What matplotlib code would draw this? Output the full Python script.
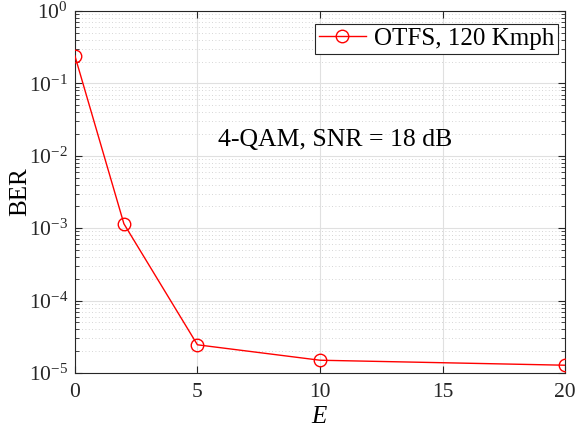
import matplotlib
matplotlib.use("Agg")
import matplotlib.pyplot as plt
from matplotlib.ticker import LogLocator, NullFormatter

plt.rcParams["font.family"] = "Liberation Serif"
plt.rcParams["mathtext.fontset"] = "custom"
plt.rcParams["mathtext.rm"] = "Liberation Serif"
plt.rcParams["mathtext.it"] = "Liberation Serif:italic"
plt.rcParams["axes.unicode_minus"] = False

# data
E_vals = [0, 2, 5, 10, 20]
ber = [0.24, 1.15e-3, 2.45e-5, 1.5e-5, 1.28e-5]
x_ticks = [0, 5, 10, 15, 20]

fig = plt.figure(figsize=(5.76, 4.30), dpi=100)
ax = fig.add_axes([0.130, 0.1326, 0.851, 0.842])

ax.plot(E_vals, ber, color="red", lw=1.0, marker="o", ms=9,
        mfc="none", mec="red", mew=1.0, label="OTFS, 120 Kmph", zorder=3)

ax.set_yscale("log")
ax.set_xlim(0, 20)
ax.set_ylim(1e-5, 1)
ax.set_xticks(x_ticks)
ax.yaxis.set_major_locator(LogLocator(base=10, numticks=10))
ax.yaxis.set_minor_locator(LogLocator(base=10, subs=range(2, 10), numticks=100))
ax.yaxis.set_minor_formatter(NullFormatter())

ax.grid(True, which="major", color="#e0e0e0", lw=0.8)
ax.grid(True, which="minor", axis="y", color="#c8c8c8", lw=0.6, ls=(0, (1, 3)))
ax.set_axisbelow(True)

ax.tick_params(which="both", direction="in", top=True, right=True,
               colors="#262626", labelsize=15.5)
ax.tick_params(which="major", length=5)
ax.tick_params(axis="x", which="major", pad=7)
ax.tick_params(axis="y", which="major", pad=5)
ax.tick_params(which="minor", length=3)
for s in ax.spines.values():
    s.set_color("#262626")
    s.set_linewidth(0.8)

ax.set_xlabel("$E$", fontsize=18, labelpad=3)
ax.set_ylabel("BER", fontsize=18, labelpad=-2)

ax.text(10.6, 10 ** -1.78, "4-QAM, SNR = 18 dB", fontsize=18.5,
        ha="center", va="center", color="black")

leg = ax.legend(loc="upper right", bbox_to_anchor=(0.985, 0.965),
                fontsize=18, frameon=True, fancybox=False,
                borderpad=0.15, handlelength=1.9, handletextpad=0.3,
                borderaxespad=0.0)
leg.get_frame().set_edgecolor("#262626")
leg.get_frame().set_linewidth(0.8)
leg.get_frame().set_alpha(1)

fig.savefig("out.png", dpi=100)
